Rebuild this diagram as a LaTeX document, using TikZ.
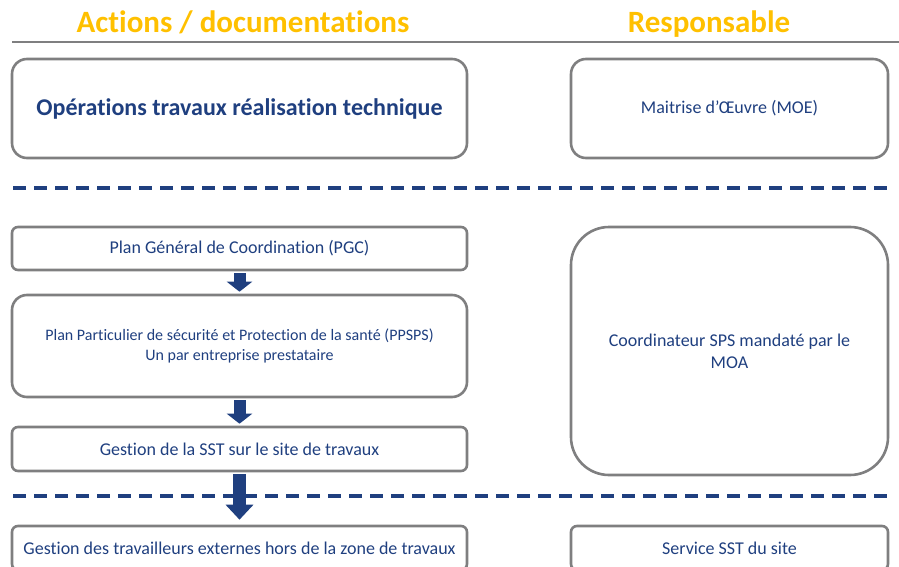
\documentclass[tikz,border=0pt]{standalone}
\usepackage{fontspec}
\setmainfont{Carlito}[Ligatures=NoCommon]
\usetikzlibrary{arrows.meta}
\definecolor{navy}{HTML}{1F3F7F}
\definecolor{titre}{HTML}{FFC000}
\definecolor{bord}{HTML}{7F7F80}

\begin{document}
\begin{tikzpicture}[x=1pt,y=-1pt,
  box/.style={draw=bord,line width=2.6pt,rounded corners=15pt,text=navy,
    align=center,inner sep=0pt,font=\fontsize{18}{22}\selectfont},
  petit/.style={box,rounded corners=6pt},
  fleche/.style={navy,line width=12pt,-{Triangle[width=25pt,length=10pt]},
    shorten <=2pt,shorten >=2pt},
  coupe/.style={navy,line width=3.5pt,dash pattern=on 12.5pt off 8.5pt}]
\useasboundingbox (0,0) rectangle (899,567);
% titres
\node[text=titre,font=\fontsize{31}{36}\bfseries] (t1) at (243,22) {Actions / documentations};
\node[text=titre,font=\fontsize{31}{36}\bfseries] (t2) at (709,24) {Responsable};
\draw[bord,line width=2pt] (12,42) -- (899,42);
% etape 1
\node[box,minimum width=455pt,minimum height=99pt,font=\fontsize{24}{28}\bfseries] (ops) at (239.5,108.5)
  {Opérations travaux réalisation technique};
\node[box,minimum width=317pt,minimum height=99pt] (moe) at (729.5,108.5) {Maitrise d’Œuvre (MOE)};
\draw[coupe] (13,188) -- (888,188);
% etape 2
\node[petit,minimum width=455pt,minimum height=43pt] (pgc) at (239.5,248.5)
  {Plan Général de Coordination (PGC)};
\node[box,minimum width=455pt,minimum height=102pt,font=\fontsize{16}{20}\selectfont] (ppsps) at (239.5,346)
  {Plan Particulier de sécurité et Protection de la santé (PPSPS)\\Un par entreprise prestataire};
\node[petit,minimum width=455pt,minimum height=44pt] (sst) at (239.5,449)
  {Gestion de la SST sur le site de travaux};
\node[box,rounded corners=38pt,minimum width=317pt,minimum height=248pt] (sps) at (729.5,351)
  {Coordinateur SPS mandaté par le\\MOA};
\draw[fleche] (pgc) -- (ppsps);
\draw[fleche] (ppsps) -- (sst);
\draw[coupe] (13,496) -- (888,496);
% etape 3
\node[petit,minimum width=455pt,minimum height=44pt] (ext) at (239.5,548)
  {Gestion des travailleurs externes hors de la zone de travaux};
\node[petit,minimum width=317pt,minimum height=44pt] (site) at (729.5,548)
  {Service SST du site};
\draw[fleche,line width=13pt,-{Triangle[width=27pt,length=15pt]},shorten >=5pt] (sst) -- (ext);
\end{tikzpicture}
\end{document}
